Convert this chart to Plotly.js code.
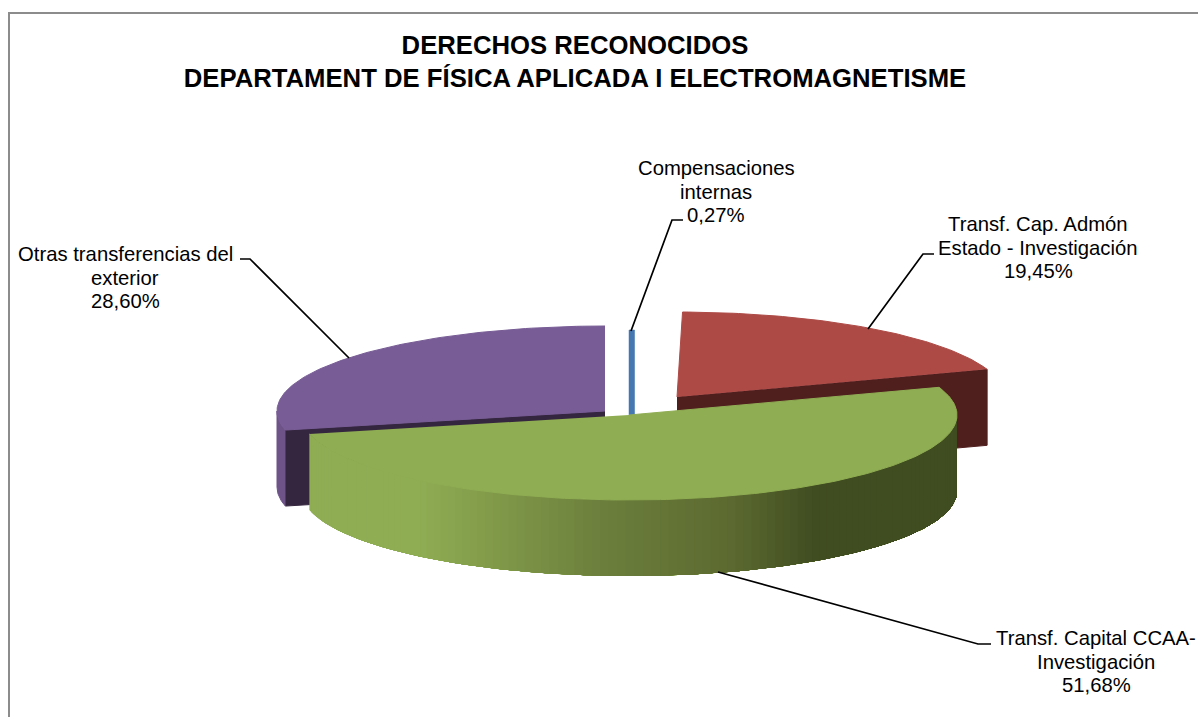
<!DOCTYPE html>
<html><head><meta charset="utf-8">
<script src="https://cdn.plot.ly/plotly-3.0.1.min.js"></script>
<style>html,body{margin:0;padding:0;background:#fff}#c{width:1198px;height:717px}</style></head>
<body><div id="c"></div>
<script>
const categories = ["Compensaciones internas","Transf. Cap. Admón Estado - Investigación","Transf. Capital CCAA- Investigación","Otras transferencias del exterior"];
const shares = [0.27,19.45,51.68,28.60];
const labelLines = [["Compensaciones","internas","0,27%"],["Transf. Cap. Admón","Estado - Investigación","19,45%"],["Transf. Capital CCAA-","Investigación","51,68%"],["Otras transferencias del","exterior","28,60%"]];

// drawing parameters (the axes are 1:1 with the page)
const A=328,B=85,H=76;
const centres=[[629,415],[677,397],[629,415],[605,411]];
const topCol=["#4577B0","#AD4A46","#8FAD53","#775C95"];
const faceCol=["#2E5480","#4F1F1E","#404D21","#35263F"];
const labelPos=[[716,168],[1038,224],[1096,638],[125,254]];
const lineGap=23.6;
const leaders=[[[631,331],[672,220],[683,220]],[[868,329],[923,254],[934,254]],[[718,572],[978,644],[991,644]],[[349,358],[250,259],[240,259]]];
const gradX=[420,600,730,815,957], gradC=[[143,173,83],[108,127,60],[92,106,48],[64,77,33],[64,77,33]];

const rim=(c,deg,dy=0)=>{const t=deg*Math.PI/180;return [c[0]+A*Math.sin(t),c[1]-B*Math.cos(t)+dy];};
const arc=(c,a0,a1,dy=0)=>{const n=Math.max(2,Math.ceil(Math.abs(a1-a0)));const p=[];for(let i=0;i<=n;i++)p.push(rim(c,a0+(a1-a0)*i/n,dy));return p;};
const poly=(pts,color,lw=1)=>({type:'scatter',mode:'lines',x:pts.map(p=>p[0]),y:pts.map(p=>p[1]),fill:'toself',fillcolor:color,line:{color:color,width:lw},hoverinfo:'skip',showlegend:false});
const gradAt=x=>{let i=0;if(x<=gradX[0])return gradC[0];while(i<gradX.length-2&&x>gradX[i+1])i++;const f=Math.min(1,(x-gradX[i])/(gradX[i+1]-gradX[i]));return gradC[i].map((v,k)=>Math.round(v+(gradC[i+1][k]-v)*f));};

let start=0;const ang=shares.map(s=>{const r=[start,start+s*3.6];start=r[1];return r;});
const traces=[];
function inner(i,deg){const c=centres[i],e=rim(c,deg);return poly([c,e,[e[0],e[1]+H],[c[0],c[1]+H]],faceCol[i]);}
// blue: thin strip as wide as its rim arc
{const r=arc(centres[0],ang[0][0],ang[0][1]);const c=centres[0];const w=r[r.length-1][0]-r[0][0];
 traces.push(poly([[c[0],c[1]],...r,[c[0]+w,c[1]]],topCol[0],0.5));}
// purple
traces.push(inner(3,ang[3][0]));
traces.push(poly([...arc(centres[3],ang[3][0],270),...arc(centres[3],270,ang[3][0],H)],"#6E5389"));
traces.push(poly([centres[3],...arc(centres[3],ang[3][0],ang[3][1])],topCol[3]));
// red
traces.push(inner(1,ang[1][1]));
traces.push(poly([centres[1],...arc(centres[1],ang[1][0],ang[1][1])],topCol[1]));
// green wall: painted left to right, each step covering everything to its right, so no seams
const w0=Math.max(90,ang[2][0]),w1=ang[2][1];
for(let d=w1;d>w0;d-=1.5){const q=[...arc(centres[2],d,w0),...arc(centres[2],w0,d,H)];const x=rim(centres[2],d-0.75)[0];const c=gradAt(x);traces.push(poly(q,`rgb(${c.join(',')})`,0));}
traces.push(poly([centres[2],...arc(centres[2],ang[2][0],ang[2][1])],topCol[2]));
// leader lines
leaders.forEach(l=>traces.push({type:'scatter',mode:'lines',x:l.map(p=>p[0]),y:l.map(p=>p[1]),line:{color:'#000',width:1.7},hoverinfo:'skip',showlegend:false}));

const annotations=[];
categories.forEach((n,i)=>labelLines[i].forEach((t,j)=>annotations.push({x:labelPos[i][0],y:labelPos[i][1]+j*lineGap,xref:'x',yref:'y',xanchor:'center',yanchor:'middle',showarrow:false,align:'center',text:t,font:{family:'"Liberation Sans",Arial,sans-serif',size:20.3,color:'#000'}})));

const layout={width:1198,height:717,margin:{l:0,r:0,t:0,b:0},paper_bgcolor:'#fff',plot_bgcolor:'#fff',showlegend:false,
 title:{text:'<b>DERECHOS RECONOCIDOS<br>DEPARTAMENT DE FÍSICA APLICADA I ELECTROMAGNETISME</b>',x:575/1198,xanchor:'center',y:1-53.5/717,yanchor:'middle',font:{family:'"Liberation Sans",Arial,sans-serif',size:25.7,color:'#000'}},
 xaxis:{range:[0,1198],visible:false,fixedrange:true},yaxis:{range:[717,0],visible:false,fixedrange:true},
 shapes:[{type:'rect',xref:'x',yref:'y',x0:9,y0:13,x1:1240,y1:760,line:{color:'#8C8C8C',width:2},fillcolor:'rgba(0,0,0,0)',layer:'below'}],
 annotations};
Plotly.newPlot('c',traces,layout,{displayModeBar:false,staticPlot:true});
</script></body></html>
